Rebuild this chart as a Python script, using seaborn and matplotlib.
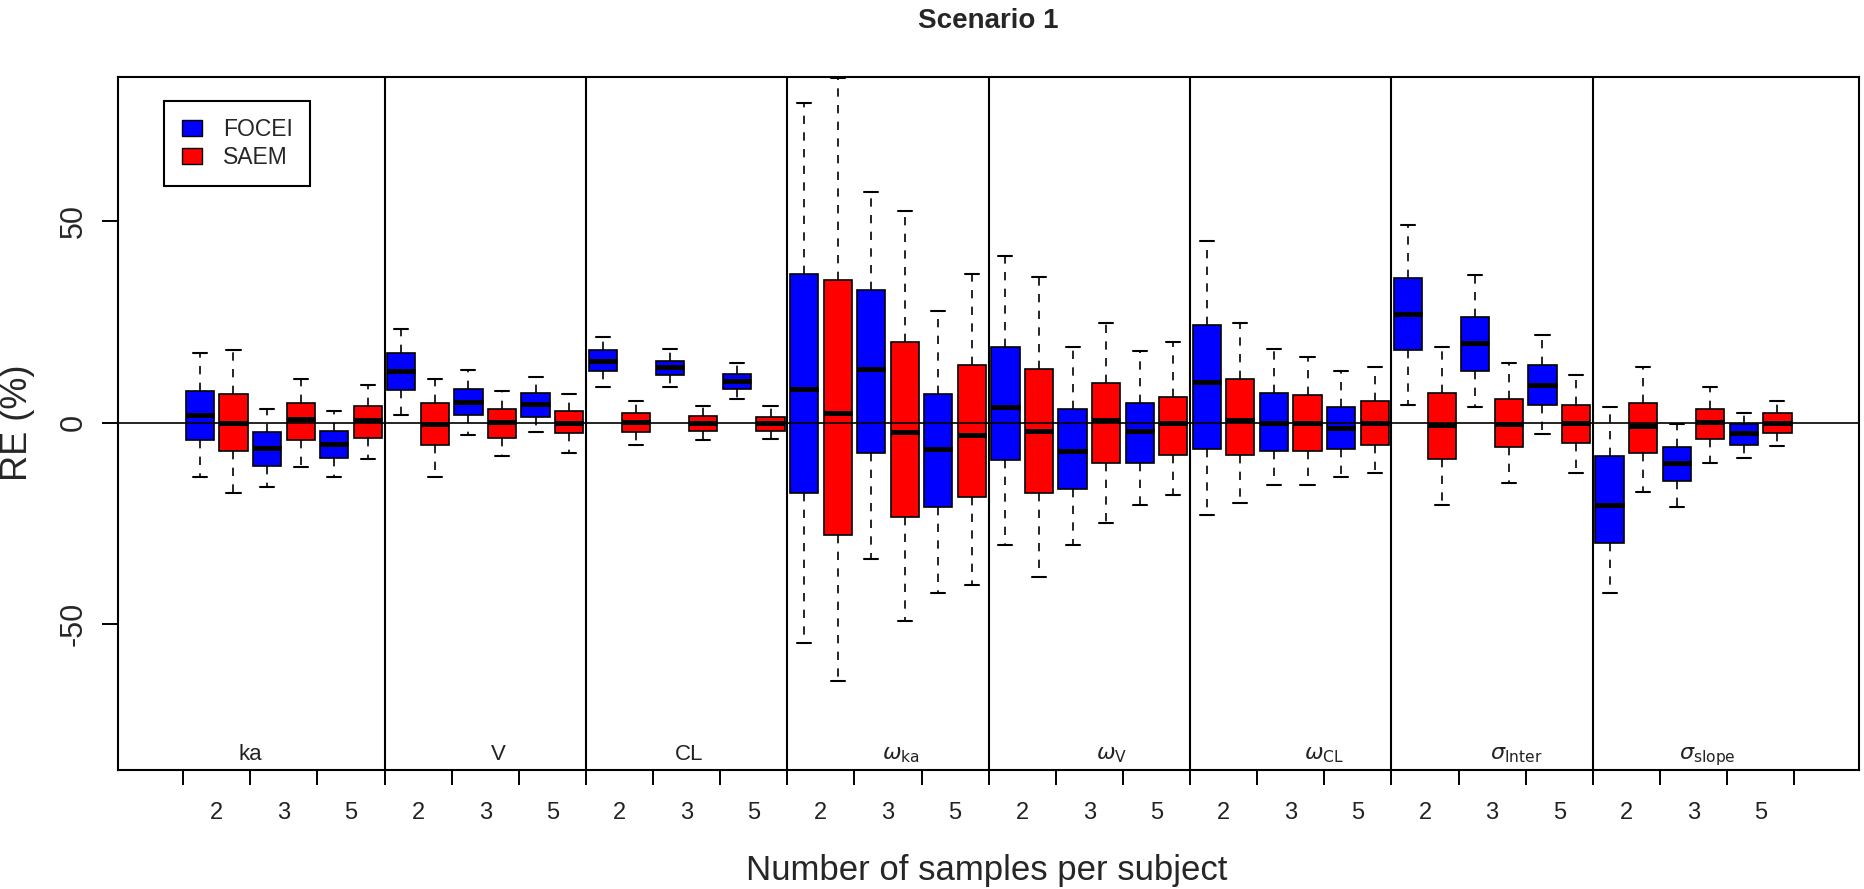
import numpy as np
import pandas as pd
import seaborn as sns
import matplotlib.pyplot as plt
from matplotlib.patches import Patch

# parameters, sample sizes and methods
params = ['ka', 'V', 'CL', 'omega_ka', 'omega_V', 'omega_CL', 'sigma_inter', 'sigma_slope']
param_labels = ['ka', 'V', 'CL', r'$\omega_{\mathrm{ka}}$', r'$\omega_{\mathrm{V}}$',
                r'$\omega_{\mathrm{CL}}$', r'$\sigma_{\mathrm{Inter}}$', r'$\sigma_{\mathrm{slope}}$']
n_samples = ['2', '3', '5']
methods = ['FOCEI', 'SAEM']

# box statistics (RE %), order: ka2 ka3 ka5 V2 V3 V5 ... sigma_slope5
focei_low = [-13.6, -16.0, -13.6, 1.9, -3.1, -2.4, 8.9, 8.9, 5.9, -54.8, -33.9, -42.3,
             -30.3, -30.3, -20.4, -23.0, -15.4, -13.4, 4.4, 3.9, -2.9, -42.2, -20.9, -8.9]
focei_q1 = [-4.2, -10.7, -8.7, 8.2, 1.8, 1.3, 12.8, 11.8, 8.3, -17.4, -7.6, -21.0,
            -9.4, -16.6, -10.1, -6.6, -7.1, -6.6, 17.9, 12.9, 4.4, -29.9, -14.4, -5.6]
focei_med = [1.9, -6.4, -5.4, 12.9, 5.0, 4.6, 15.4, 13.8, 10.4, 8.4, 13.4, -6.6,
             3.9, -7.1, -2.0, 10.0, 0.0, -1.4, 26.9, 19.8, 9.4, -20.4, -10.0, -2.6]
focei_q3 = [7.9, -2.4, -2.0, 17.3, 8.4, 7.4, 17.9, 15.4, 12.1, 36.8, 32.8, 7.0,
            18.8, 3.4, 4.9, 24.3, 7.4, 3.9, 35.8, 26.2, 14.2, -8.4, -6.0, -0.3]
focei_high = [17.2, 3.4, 2.8, 23.3, 13.0, 11.3, 21.3, 18.3, 14.9, 79.4, 57.1, 27.7,
              41.3, 18.8, 17.8, 45.1, 18.2, 12.9, 49.1, 36.7, 21.7, 3.9, -0.4, 2.3]

saem_low = [-17.4, -11.0, -9.0, -13.6, -8.4, -7.6, -5.6, -4.4, -4.0, -64.2, -49.2, -40.3,
            -38.3, -24.9, -17.9, -20.0, -15.4, -12.4, -20.4, -14.9, -12.4, -17.3, -10.0, -5.9]
saem_q1 = [-7.1, -4.2, -3.7, -5.6, -3.7, -2.7, -2.4, -2.0, -2.0, -27.9, -23.4, -18.4,
           -17.4, -10.0, -8.0, -8.0, -7.1, -5.6, -9.0, -6.0, -5.0, -7.6, -4.1, -2.6]
saem_med = [0.0, 0.9, 0.7, -0.4, 0.2, 0.0, 0.2, -0.1, 0.0, 2.4, -2.4, -3.1,
            -2.0, 0.6, 0.0, 0.6, 0.0, 0.0, -0.7, -0.4, 0.0, -0.9, 0.1, 0.0]
saem_q3 = [7.0, 4.9, 4.0, 4.9, 3.3, 2.9, 2.4, 1.6, 1.4, 35.3, 19.9, 14.3,
           13.4, 9.9, 6.3, 10.9, 6.9, 5.4, 7.3, 5.8, 4.3, 4.9, 3.4, 2.4]
saem_high = [17.9, 10.9, 9.3, 10.9, 7.8, 7.0, 5.4, 4.0, 4.0, 85.5, 52.6, 36.8,
             36.1, 24.7, 19.9, 24.7, 16.3, 13.8, 18.8, 14.8, 11.8, 13.8, 8.8, 5.3]

colors = {'FOCEI': '#0000FF', 'SAEM': '#FF0000'}

# long table: five values per box give exact quartiles / whisker ends
stats = {
    'FOCEI': [focei_low, focei_q1, focei_med, focei_q3, focei_high],
    'SAEM': [saem_low, saem_q1, saem_med, saem_q3, saem_high],
}
rows = []
box_order = []
k = 0
for p in params:
    for n in n_samples:
        for m in methods:
            key = f'{p}|{n}|{m}'
            box_order.append(key)
            for s in stats[m]:
                rows.append({'box': key, 'method': m, 'RE': s[k]})
        k += 1
df = pd.DataFrame(rows)

sns.set_theme(style='white')
plt.rcParams['font.family'] = ['Liberation Sans', 'DejaVu Sans']

fig = plt.figure(figsize=(18.64, 8.89), dpi=100)
ax = fig.add_axes([0.0635, 0.1333, 0.9338, 0.7801])

sns.boxplot(data=df, x='box', y='RE', hue='method', order=box_order, hue_order=methods,
            palette=colors, dodge=False, width=0.84, whis=(0, 100), saturation=1,
            linecolor='black', linewidth=1.2, legend=False, ax=ax,
            medianprops=dict(color='black', linewidth=3.6, solid_capstyle='butt'),
            whiskerprops=dict(linestyle=(0, (5, 5)), linewidth=1.2),
            capprops=dict(linewidth=1.5))

ax.set_xlim(-2.43, 49.43)
ax.set_ylim(-86.33, 85.76)
ax.axhline(0, color='black', lw=1.2, zorder=6)
for xs in np.arange(5.5, 42, 6):
    ax.axvline(xs, color='black', lw=1.5, zorder=6)

# group labels inside the plot
label_x = [1.49, 8.90, 14.57, 20.87, 27.17, 33.48, 39.21, 44.90]
for x, lab in zip(label_x, param_labels):
    ax.text(x, -83.7, lab, ha='center', va='baseline', fontsize=16, color='#222222')

# x axis: ticks between pairs, labels in the middle
ax.set_xticks(np.arange(-0.5, 48, 2))
ax.set_xticklabels([])
ax.set_xticks(np.arange(0.5, 47, 2), minor=True)
ax.set_xticklabels(n_samples * len(params), minor=True, fontsize=17)
ax.tick_params(axis='x', which='major', direction='out', length=11, width=1.4,
               color='black', bottom=True)
ax.tick_params(axis='x', which='minor', length=0, pad=23, bottom=True, labelcolor='#222222')
ax.set_xlabel('')
ax.set_ylabel('')

ax.set_yticks([-50, 0, 50])
ax.set_yticklabels(['-50', '0', '50'], rotation=90, va='center', fontsize=22)
ax.tick_params(axis='y', direction='out', length=11.5, width=1.4, color='black',
               left=True, pad=10)

for sp in ax.spines.values():
    sp.set_visible(True)
    sp.set_color('black')
    sp.set_linewidth(1.5)

handles = [Patch(facecolor=colors[m], edgecolor='black', lw=1) for m in methods]
leg = ax.legend(handles, methods, loc='upper left', bbox_to_anchor=(0.0265, 0.9654),
                fontsize=16.5, frameon=True, fancybox=False, edgecolor='black', framealpha=1,
                borderpad=0.75, handlelength=0.87, handleheight=0.7, handletextpad=0.95,
                labelspacing=0.2, borderaxespad=0)
leg.get_frame().set_linewidth(1.5)

fig.text(0.530, 0.9764, 'Scenario 1', ha='center', va='center', fontsize=20, fontweight='bold')
fig.text(0.5295, 0.0101, 'Number of samples per subject', ha='center', va='baseline', fontsize=25)
fig.text(0.0095, 0.5248, 'RE (%)', ha='center', va='center', rotation=90, fontsize=26)

fig.savefig('out.png', dpi=100)
